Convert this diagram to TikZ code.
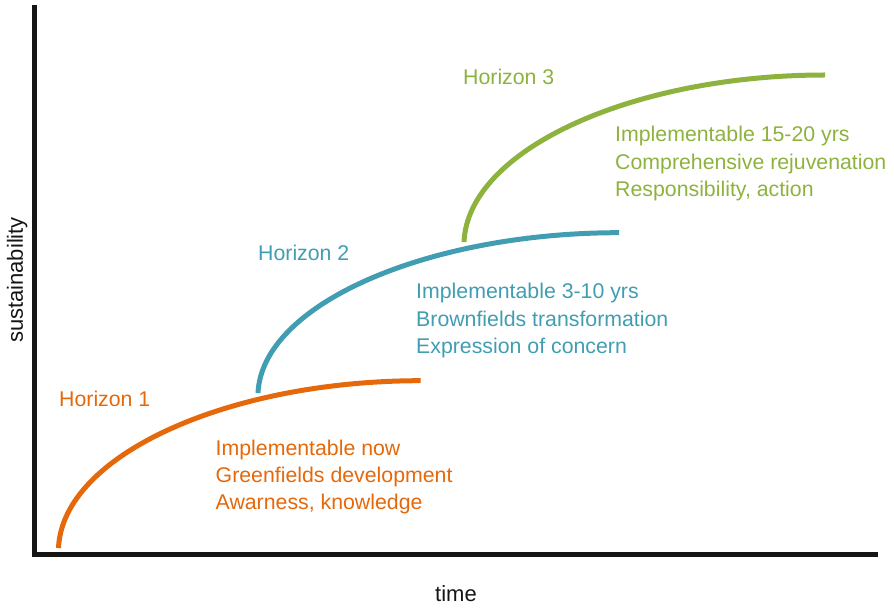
\documentclass[tikz,border=0pt]{standalone}
\usepackage{fontspec}
\setmainfont{Liberation Sans}
\definecolor{horA}{HTML}{E5680A}
\definecolor{horB}{HTML}{419DB2}
\definecolor{horC}{HTML}{8DB23E}
\definecolor{axisk}{HTML}{151515}
\begin{document}
\begin{tikzpicture}[x=1pt,y=-1pt,
  axisline/.style={draw=axisk,line width=4.8pt,line join=miter,line cap=butt},
  curveline/.style={line width=5pt,line cap=butt},
  lbl/.style={anchor=base west,inner sep=0pt,font=\fontsize{21.3}{25}\selectfont},
  axlbl/.style={inner sep=0pt,text=axisk,font=\fontsize{22}{26}\selectfont}]
\useasboundingbox (0,0) rectangle (894,609);
% axes
\coordinate (ytop) at (34.5,5);
\coordinate (xend) at (878,554.5);
\draw[axisline] (ytop) |- (xend);
% curves
\coordinate (a0) at (58.5,548);
\coordinate (a1) at (420.7,380.7);
\coordinate (b0) at (258,393);
\coordinate (b1) at (619,232.7);
\coordinate (c0) at (464,242);
\coordinate (c1) at (825,75);
\draw[curveline,horA] (a0) .. controls (62.5,455) and (228.5,380.7) .. (a1);
\draw[curveline,horB] (b0) .. controls (262,304) and (428,232.7) .. (b1);
\draw[curveline,horC] (c0) .. controls (468,149) and (634,75) .. (c1);
% labels horizon 1
\node[lbl,text=horA] (h1) at (59,406.7) {Horizon 1};
\node[lbl,text=horA] (h1a) at (215.5,455) {Implementable now};
\node[lbl,text=horA] (h1b) at (215.5,482.5) {Greenfields development};
\node[lbl,text=horA] (h1c) at (215.5,509) {Awarness, knowledge};
% labels horizon 2
\node[lbl,text=horB] (h2) at (258,260.7) {Horizon 2};
\node[lbl,text=horB] (h2a) at (416,299) {Implementable 3-10 yrs};
\node[lbl,text=horB] (h2b) at (416,327) {Brownfields transformation};
\node[lbl,text=horB] (h2c) at (416,353.3) {Expression of concern};
% labels horizon 3
\node[lbl,text=horC] (h3) at (463,85) {Horizon 3};
\node[lbl,text=horC] (h3a) at (615,141.7) {Implementable 15-20 yrs};
\node[lbl,text=horC] (h3b) at (615,169.5) {Comprehensive rejuvenation};
\node[lbl,text=horC] (h3c) at (615,196.5) {Responsibility, action};
% axis labels
\node[axlbl,anchor=base] (tl) at (456,601) {time};
\node[axlbl,anchor=base,rotate=90] (sl) at (23,280) {sustainability};
\end{tikzpicture}
\end{document}
